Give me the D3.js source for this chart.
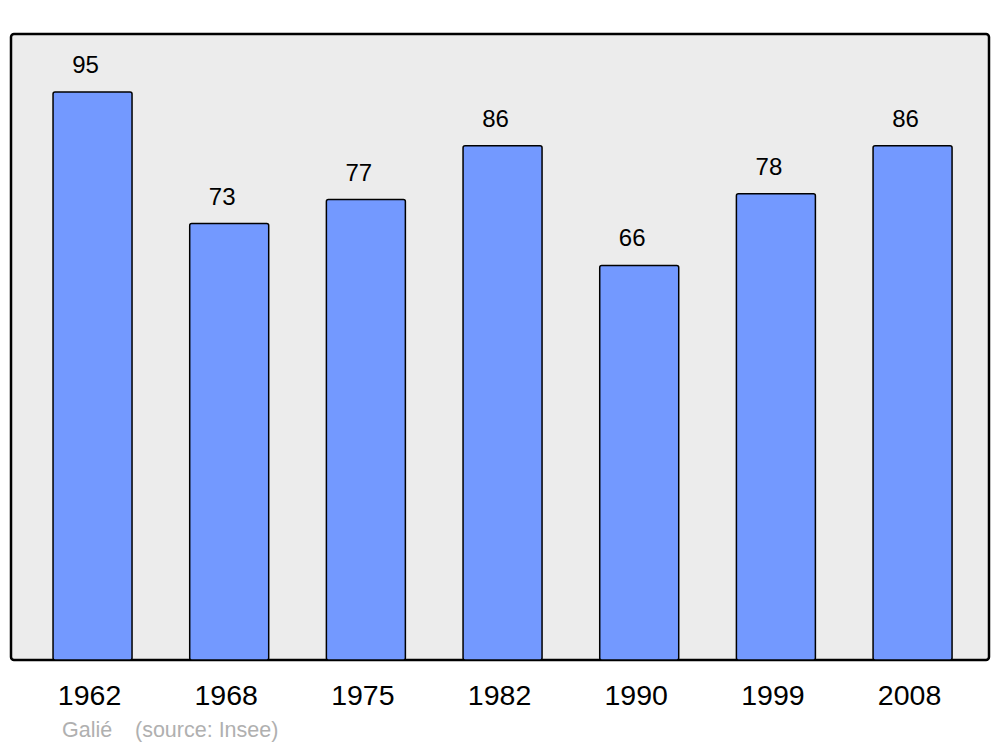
<!DOCTYPE html>
<html><head><meta charset="utf-8">
<script src="https://cdn.jsdelivr.net/npm/d3@7"></script>
<style>body{margin:0;background:#fff}svg{display:block}</style>
</head><body>
<script>
const years = ["1962","1968","1975","1982","1990","1999","2008"];
const values = [95,73,77,86,66,78,86];
const credit = "Galié";
const source = "(source: Insee)";

const W = 1000, H = 747;
const svg = d3.select("body").append("svg").attr("width", W).attr("height", H);
const font = "Liberation Sans, Arial, sans-serif";

svg.append("rect").attr("x",11).attr("y",34).attr("width",978).attr("height",626)
  .attr("rx",3).attr("fill","#ececec").attr("stroke","#000").attr("stroke-width",2.5);

const x = d3.scaleBand().domain(years).range([24.2, 980.9]).paddingInner(0.422).paddingOuter(0.211);
const y = d3.scaleLinear().domain([0, 104.7]).range([660, 34]);

svg.selectAll("rect.bar").data(values).enter().append("rect").attr("class","bar")
  .attr("x",(d,i)=>x(years[i])).attr("y",d=>y(d))
  .attr("width",x.bandwidth()).attr("height",d=>y(0)-y(d))
  .attr("rx",2).attr("fill","#7399ff").attr("stroke","#000").attr("stroke-width",1.5);

svg.selectAll("text.val").data(values).enter().append("text").attr("class","val")
  .attr("x",(d,i)=>x(years[i])+x.bandwidth()/2-7).attr("y",d=>y(d)-19)
  .attr("text-anchor","middle").attr("font-family",font).attr("font-size",24).attr("fill","#000")
  .text(d=>d);

svg.selectAll("text.yr").data(years).enter().append("text").attr("class","yr")
  .attr("x",d=>x(d)+x.bandwidth()/2-3).attr("y",705)
  .attr("text-anchor","middle").attr("font-family",font).attr("font-size",28.5).attr("fill","#000")
  .text(d=>d);

svg.append("text").attr("x",62).attr("y",737).attr("font-family",font).attr("font-size",21.5)
  .attr("fill","#b0b0b0").text(credit);
svg.append("text").attr("x",135).attr("y",737).attr("font-family",font).attr("font-size",21.5)
  .attr("fill","#b0b0b0").text(source);
</script>
</body></html>
